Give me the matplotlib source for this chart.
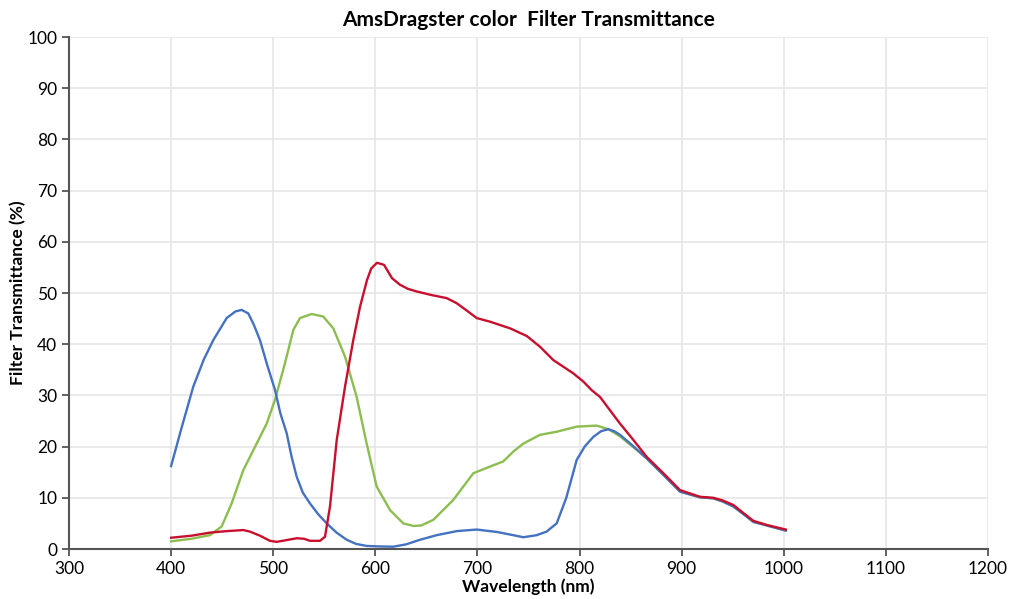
import matplotlib.pyplot as plt

plt.rcParams['font.family'] = ['Lato', 'DejaVu Sans']

blue_x = [400, 410, 421.7, 432, 441.3, 454.4, 463, 469.1, 475.6, 481, 487, 494, 501.7, 507, 513.2, 518, 523, 529, 536, 544,
          552.4, 562, 572, 581, 591.5, 604, 617.6, 630, 643.7, 660, 680, 699.3, 720, 745, 758, 767.8, 772, 777.6, 787,
          797.2, 805, 813.5, 821, 828.2, 834, 839.6, 852, 865.7, 882, 898.4, 918, 931, 940, 950.6, 960, 970.2, 983.3, 1002]
blue_y = [16.2, 23.5, 31.7, 37.0, 40.8, 45.1, 46.4, 46.7, 46.0, 43.8, 40.8, 36.0, 31.1, 26.5, 22.6, 18.0, 14.1, 11.0, 8.9, 6.8,
          5.0, 3.2, 1.8, 1.0, 0.6, 0.5, 0.45, 0.9, 1.8, 2.7, 3.5, 3.8, 3.3, 2.3, 2.7, 3.4, 4.1, 5.0, 10.0,
          17.4, 20.0, 21.9, 23.0, 23.4, 23.0, 22.3, 20.2, 17.7, 14.5, 11.2, 10.1, 9.9, 9.3, 8.3, 6.9, 5.3, 4.6, 3.6]

green_x = [400, 420, 438, 449.5, 459.3, 470.7, 483.8, 493.6, 501.7, 511.5, 519.7, 526.2, 537.7, 549, 558.8, 570.3,
           581.7, 591.5, 601.3, 614.4, 627.4, 637.2, 645, 656.8, 676.4, 696, 712.3, 725.3, 735, 745, 761.3, 777.6,
           797.2, 816.8, 828.2, 839.6, 852, 865.7, 882, 898.4, 918, 931, 940, 950.6, 960, 970.2, 983.3, 1002]
green_y = [1.5, 2.0, 2.7, 4.4, 8.9, 15.4, 20.6, 24.5, 29.1, 36.3, 42.8, 45.1, 45.9, 45.4, 43.1, 37.6,
           29.7, 20.6, 12.2, 7.6, 5.0, 4.5, 4.6, 5.7, 9.6, 14.8, 16.1, 17.1, 19.0, 20.6, 22.3, 22.9,
           23.9, 24.1, 23.4, 22.0, 20.0, 17.7, 14.5, 11.2, 10.1, 9.9, 9.3, 8.3, 6.9, 5.3, 4.6, 3.6]

red_x = [400, 420, 438, 455, 470.7, 477.2, 487, 496.8, 503.4, 512, 523, 530, 536, 545.8, 550.7, 555.6, 562.2, 570.3,
         578.4, 585, 591.8, 596, 601.6, 608.5, 616.3, 624.2, 632, 640.5, 655, 669.9, 679.7, 690, 699.3, 712.3,
         731.9, 748.3, 761.3, 774.3, 793.9, 803.7, 812, 820, 829.8, 839.6, 852.7, 865.7, 882.1, 898.4, 918,
         931, 940, 950.6, 960, 970.2, 983.3, 1002]
red_y = [2.2, 2.6, 3.2, 3.5, 3.7, 3.4, 2.6, 1.6, 1.4, 1.7, 2.1, 2.0, 1.6, 1.6, 2.4, 8.3, 21.3, 31.7,
         40.8, 47.3, 52.5, 54.8, 55.9, 55.5, 52.9, 51.6, 50.8, 50.3, 49.6, 49.0, 48.0, 46.5, 45.1, 44.4,
         43.1, 41.6, 39.5, 36.9, 34.3, 32.7, 31.0, 29.7, 27.1, 24.5, 21.3, 18.0, 14.8, 11.5, 10.2,
         10.0, 9.5, 8.6, 7.1, 5.5, 4.7, 3.8]

fig = plt.figure(figsize=(10.1, 5.99), dpi=100)
ax = fig.add_axes([69 / 1010, 1 - 549 / 599, 919 / 1010, 512 / 599])

ax.plot(green_x, green_y, color='#8cbd4f', lw=1.7)
ax.plot(blue_x, blue_y, color='#4472c0', lw=1.7)
ax.plot(red_x, red_y, color='#c8102e', lw=1.7)

ax.set_xlim(300, 1200)
ax.set_ylim(0, 100)
ax.set_xticks(range(300, 1201, 100))
ax.set_yticks(range(0, 101, 10))
ax.grid(True, color='#e6e6e6', lw=1.2)
ax.set_axisbelow(True)
for s in ['top', 'right']:
    ax.spines[s].set_visible(False)
for s in ['left', 'bottom']:
    ax.spines[s].set_color('#555555')
    ax.spines[s].set_linewidth(1.5)
ax.tick_params(colors='#555555', labelcolor='black', labelsize=12.5, length=5, width=1.3)

ax.set_title('AmsDragster color  Filter Transmittance', fontsize=15, fontweight='bold', pad=8)
ax.set_xlabel('Wavelength (nm)', fontsize=12.5, fontweight='bold', labelpad=1)
ax.set_ylabel('Filter Transmittance (%)', fontsize=12.5, fontweight='bold', labelpad=1)

fig.savefig('out.png', dpi=100)
